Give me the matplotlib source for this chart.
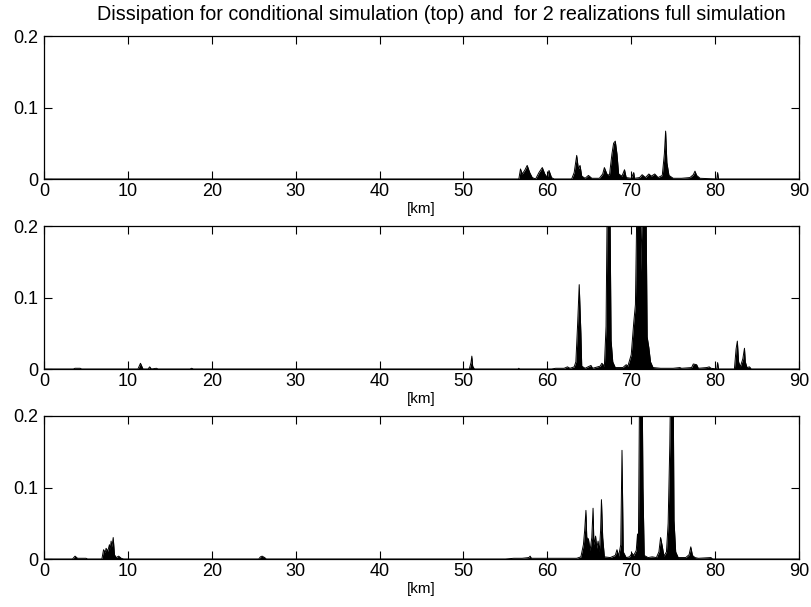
import matplotlib
matplotlib.use("Agg")
import matplotlib.pyplot as plt

plt.rcParams['font.family'] = ['Liberation Sans', 'DejaVu Sans']

title_text = "Dissipation for conditional simulation (top) and  for 2 realizations full simulation"
xlabel_text = "[km]"
xticks = [0, 10, 20, 30, 40, 50, 60, 70, 80, 90]
yticks = [0, 0.1, 0.2]
ytick_labels = ["0", "0.1", "0.2"]

# Panel 1: conditional simulation
km1 = [0, 56.6, 56.8, 57.0, 57.3, 57.6, 57.9, 58.2, 58.6, 59.0, 59.4, 59.7, 60.0, 60.2, 60.5, 60.8,
       62.9, 63.2, 63.5, 63.7, 63.9, 64.1, 64.5, 64.9, 65.3, 66.2, 66.6, 66.8, 67.1, 67.4, 67.7, 67.9,
       68.1, 68.3, 68.5, 68.9, 69.2, 69.4, 70.0, 70.3, 70.4, 71.0, 71.3, 71.7, 72.1, 72.4, 72.8, 73.2,
       73.7, 73.95, 74.1, 74.25, 74.5, 75.0, 76.0, 77.0, 77.4, 77.6, 77.8, 78.2, 80.2, 80.3, 80.4, 90]
diss1 = [0, 0, 0.014, 0.007, 0.012, 0.019, 0.009, 0.002, 0, 0.009, 0.016, 0.007, 0.002, 0.012, 0.002, 0,
         0, 0.009, 0.033, 0.014, 0.019, 0.004, 0.001, 0.005, 0.001, 0.001, 0.007, 0.016, 0.007, 0.005, 0.035, 0.050,
         0.053, 0.035, 0.007, 0.004, 0.013, 0.002, 0.001, 0.009, 0.001, 0.002, 0.006, 0.002, 0.007, 0.004, 0.007, 0.002,
         0.005, 0.035, 0.067, 0.023, 0.005, 0.001, 0.001, 0.002, 0.006, 0.011, 0.005, 0.001, 0, 0.009, 0, 0]

# Panel 2: full simulation, realization 1
km2 = [0, 3.5, 3.7, 4.3, 4.5, 11.2, 11.5, 11.8, 12.4, 12.6, 12.8, 13.4, 13.6, 17.4, 17.6, 17.8,
       50.7, 50.9, 51.0, 51.1, 51.3, 56.5, 56.6, 56.7, 60.5, 61.0, 62.0, 62.4, 62.7, 63.2, 63.4, 63.6,
       63.8, 64.0, 64.1, 64.5, 65.2, 65.4, 66.3, 66.5, 66.8, 67.0, 67.15, 67.45, 67.6, 67.8, 68.1, 69.0,
       69.4, 69.6, 70.0, 70.3, 70.5, 70.7, 71.05, 71.15, 71.35, 71.75, 71.9, 72.1, 72.3, 72.6, 73.5, 75.0,
       75.8, 76.0, 77.2, 77.4, 77.8, 78.0, 79.0, 79.3, 79.5, 80.2, 80.3, 80.4, 82.3, 82.5, 82.65, 82.8,
       83.0, 83.3, 83.5, 83.6, 83.8, 84.1, 84.3, 90]
diss2 = [0, 0, 0.001, 0.001, 0, 0, 0.008, 0, 0, 0.003, 0, 0.001, 0, 0, 0.001, 0,
         0, 0.009, 0.018, 0.004, 0, 0, 0.001, 0, 0, 0.001, 0.001, 0.003, 0.001, 0.003, 0.010, 0.060,
         0.118, 0.050, 0.004, 0.001, 0.005, 0.001, 0.004, 0.008, 0.004, 0.060, 0.25, 0.25, 0.040, 0.010, 0.002, 0.002,
         0.006, 0.004, 0.020, 0.065, 0.090, 0.25, 0.25, 0.136, 0.25, 0.25, 0.045, 0.030, 0.010, 0.002, 0.001, 0.001,
         0.002, 0.001, 0.002, 0.007, 0.006, 0.001, 0.002, 0.003, 0.001, 0, 0.009, 0, 0, 0.028, 0.039, 0.010,
         0.003, 0.014, 0.029, 0.010, 0.002, 0.003, 0, 0]

# Panel 3: full simulation, realization 2
km3 = [0, 3.4, 3.7, 4.0, 4.4, 5.0, 5.2, 6.9, 7.1, 7.3, 7.4, 7.6, 7.8, 7.9, 8.0, 8.1,
       8.25, 8.4, 8.6, 8.9, 9.2, 9.5, 25.6, 25.8, 26.0, 26.3, 26.5, 55.0, 56.0, 57.0, 57.8, 57.95,
       58.1, 59.0, 60.5, 62.0, 63.5, 64.0, 64.3, 64.45, 64.6, 64.7, 64.9, 65.1, 65.3, 65.45, 65.55, 65.75,
       65.9, 66.05, 66.2, 66.35, 66.45, 66.6, 66.8, 67.5, 68.1, 68.3, 68.5, 68.75, 68.9, 69.05, 69.4, 69.8,
       70.1, 70.3, 70.6, 70.75, 70.85, 71.0, 71.3, 71.4, 71.55, 72.0, 72.5, 73.0, 73.3, 73.5, 73.7, 73.9,
       74.2, 74.4, 74.6, 74.7, 75.0, 75.1, 75.3, 75.6, 76.5, 76.9, 77.1, 77.3, 77.6, 78.0, 79.5, 79.7, 90]
diss3 = [0, 0, 0.004, 0.001, 0.001, 0.001, 0, 0, 0.013, 0.009, 0.015, 0.011, 0.020, 0.013, 0.025, 0.017,
         0.030, 0.006, 0.002, 0.004, 0.001, 0, 0, 0.003, 0.004, 0.002, 0, 0, 0.001, 0.001, 0.002, 0.004,
         0.001, 0.001, 0.001, 0.001, 0.001, 0.003, 0.020, 0.040, 0.068, 0.030, 0.028, 0.012, 0.030, 0.071, 0.020, 0.032,
         0.015, 0.025, 0.010, 0.040, 0.083, 0.030, 0.003, 0.002, 0.005, 0.013, 0.004, 0.020, 0.152, 0.010, 0.002, 0.003,
         0.008, 0.005, 0.012, 0.035, 0.010, 0.25, 0.25, 0.100, 0.005, 0.002, 0.003, 0.002, 0.010, 0.030, 0.018, 0.004,
         0.010, 0.050, 0.160, 0.25, 0.25, 0.054, 0.010, 0.002, 0.002, 0.006, 0.017, 0.005, 0.002, 0.001, 0.002, 0, 0]

panels = [(km1, diss1), (km2, diss2), (km3, diss3)]

W, H = 812, 607
fig = plt.figure(figsize=(W / 100, H / 100), dpi=100)

left = 44 / W
width = 755 / W
height = 143 / H
bottoms_px = [179, 369, 559]

for i, (km, d) in enumerate(panels):
    ax = fig.add_axes([left, 1 - bottoms_px[i] / H, width, height])
    ax.fill_between(km, d, 0, color='black', linewidth=0)
    ax.plot(km, d, color='black', linewidth=0.7)
    ax.set_xlim(0, 90)
    ax.set_ylim(0, 0.2)
    ax.set_xticks(xticks)
    ax.set_xticklabels([str(t) for t in xticks])
    ax.set_yticks(yticks)
    ax.set_yticklabels(ytick_labels)
    ax.tick_params(direction='in', length=6, width=0.8, top=True, right=True,
                   labelsize=13, colors='black')
    ax.tick_params(axis='x', pad=3)
    ax.tick_params(axis='y', pad=4)
    for s in ax.spines.values():
        s.set_linewidth(0.9)
    ax.set_xlabel(xlabel_text, fontsize=11, labelpad=1)

fig.text(441 / W, 1 - 14 / H, title_text, ha='center', va='center', fontsize=14.2)

fig.savefig("out.png", dpi=100)
